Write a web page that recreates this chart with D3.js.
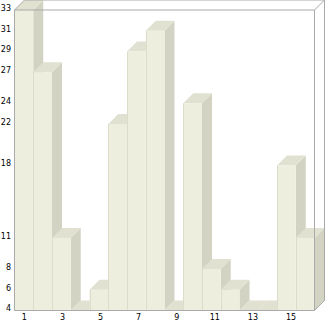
<!DOCTYPE html>
<html><head><meta charset="utf-8">
<script src="https://cdn.jsdelivr.net/npm/d3@7"></script>
<style>body{margin:0;background:#fff}svg{display:block}</style>
</head><body>
<script>
const categories = ["1","2","3","4","5","6","7","8","9","10","11","12","13","14","15","16"];
const values = [33,27,11,4,6,22,29,31,4,24,8,6,4,4,18,11];
const yTickValues = [33,31,29,27,24,22,18,11,8,6,4];
const xTickLabels = ["1","3","5","7","9","11","13","15"];

const W = 326, H = 321;
const L = 14.5, R = 314.5, T = 10, B = 310.5, D = 10;
const svg = d3.select("body").append("svg").attr("width", W).attr("height", H);

const x = d3.scaleBand().domain(categories).range([L, R]).padding(0);
const xl = d3.scaleBand().domain(categories).range([14.8, 319.6]).padding(0);
const y = d3.scaleLinear().domain([4, 33]).range([B, T]);

const cFront = "#eeeedf", cSide = "#d3d3c3", cTop = "#e1e1d1", cDiv = "#dcdccb", cFrame = "#aaaaaa";

const g = svg.append("g");
categories.forEach((c, i) => {
  const v = values[i];
  const x0 = x(c), x1 = x0 + x.bandwidth();
  const yt = y(v), yb = y(4);
  // side face
  g.append("path").attr("fill", cSide)
    .attr("d", `M${x1},${yb}L${x1 + D},${yb - D}L${x1 + D},${yt - D}L${x1},${yt}Z`);
  // top face
  g.append("path").attr("fill", cTop)
    .attr("d", `M${x0},${yt}L${x0 + D},${yt - D}L${x1 + D},${yt - D}L${x1},${yt}Z`);
  // front face
  g.append("rect").attr("x", x0).attr("y", yt).attr("width", x.bandwidth()).attr("height", Math.max(0, yb - yt)).attr("fill", cFront);
  if (i > 0 && yb - yt > 0) {
    g.append("line").attr("x1", Math.round(x0) + 0.5).attr("x2", Math.round(x0) + 0.5).attr("y1", yt).attr("y2", yb)
      .attr("stroke", cDiv).attr("stroke-width", 1);
  }
});

// frame
const f = svg.append("g").attr("stroke", cFrame).attr("stroke-width", 1).attr("fill", "none");
f.append("path").attr("d", `M${L},${T}L${L + D},${T - D}L${R + D},${T - D}L${R + D},${B - D}L${R},${B}`);
f.append("path").attr("d", `M${R},${T}L${R + D},${T - D}`);
f.append("path").attr("d", `M${L},${T}L${R},${T}L${R},${B}L${L},${B}Z`);

// y labels
svg.append("g").selectAll("text").data(yTickValues).join("text")
  .attr("x", 11).attr("y", d => y(d) - 2).attr("dy", "0.35em")
  .attr("text-anchor", "end").attr("font-family", "DejaVu Sans").attr("font-size", 8)
  .attr("fill", "#000").text(d => d);

// x labels
svg.append("g").selectAll("text").data(xTickLabels).join("text")
  .attr("x", d => xl(d) + xl.bandwidth() / 2).attr("y", 317).attr("dy", "0.35em")
  .attr("text-anchor", "middle").attr("font-family", "DejaVu Sans").attr("font-size", 8)
  .attr("fill", "#000").text(d => d);
</script>
</body></html>
